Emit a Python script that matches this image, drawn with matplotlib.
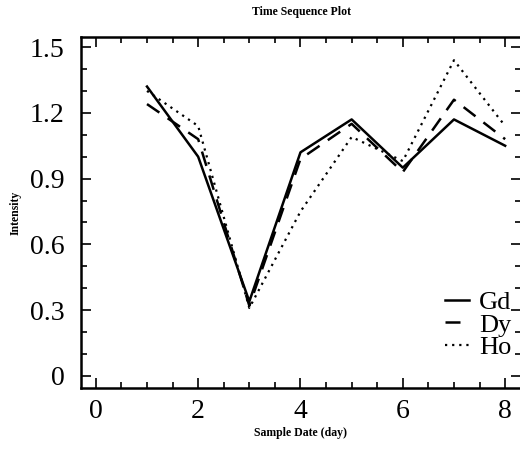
import matplotlib.pyplot as plt
from matplotlib.ticker import MultipleLocator

# sample days and measured intensities
days = [1, 2, 3, 4, 5, 6, 7, 8]
gd = [1.32, 1.00, 0.34, 1.02, 1.17, 0.95, 1.17, 1.05]
dy = [1.24, 1.08, 0.32, 0.99, 1.15, 0.93, 1.26, 1.08]
ho = [1.30, 1.14, 0.31, 0.75, 1.09, 0.98, 1.44, 1.14]
series_names = ['Gd', 'Dy', 'Ho']

plt.rcParams['font.family'] = ['Liberation Serif', 'DejaVu Serif']

fig = plt.figure(figsize=(5.2, 4.49), dpi=100)
ax = fig.add_axes([81/520, 61/449, 440/520, 351/449])

ax.plot(days, gd, color='black', lw=1.8, ls='-', label=series_names[0])
ax.plot(days, dy, color='black', lw=1.8, ls=(0, (6, 4)), label=series_names[1])
ax.plot(days, ho, color='black', lw=1.6, ls=(0, (1, 2.2)), label=series_names[2])

ax.set_xlim(-0.29, 8.31)
ax.set_ylim(-0.055, 1.546)
ax.xaxis.set_major_locator(MultipleLocator(2))
ax.xaxis.set_minor_locator(MultipleLocator(0.5))
ax.yaxis.set_minor_locator(MultipleLocator(0.1))
ax.set_yticks([0, 0.3, 0.6, 0.9, 1.2, 1.5])
ax.set_yticklabels(['0', '0.3', '0.6', '0.9', '1.2', '1.5'])

ax.tick_params(which='both', direction='in', top=True, right=True, labelsize=20, width=1.2)
ax.tick_params(which='major', length=7)
ax.tick_params(which='minor', length=4)
ax.tick_params(axis='y', pad=12)
ax.tick_params(axis='x', pad=8)
for s in ax.spines.values():
    s.set_linewidth(1.8)

ax.set_title('Time Sequence Plot', fontsize=8.5, fontweight='bold', pad=16)
ax.set_xlabel('Sample Date (day)', fontsize=8.5, fontweight='bold', labelpad=2)
ax.set_ylabel('Intensity', fontsize=8.5, fontweight='bold', labelpad=6)

ax.legend(loc='upper left', bbox_to_anchor=((445 - 81) / 440, (388 - 291) / 351),
          frameon=False, fontsize=19, handlelength=0.9, handletextpad=0.4,
          labelspacing=-0.05, borderpad=0, borderaxespad=0)

fig.savefig('out.png', dpi=100)
